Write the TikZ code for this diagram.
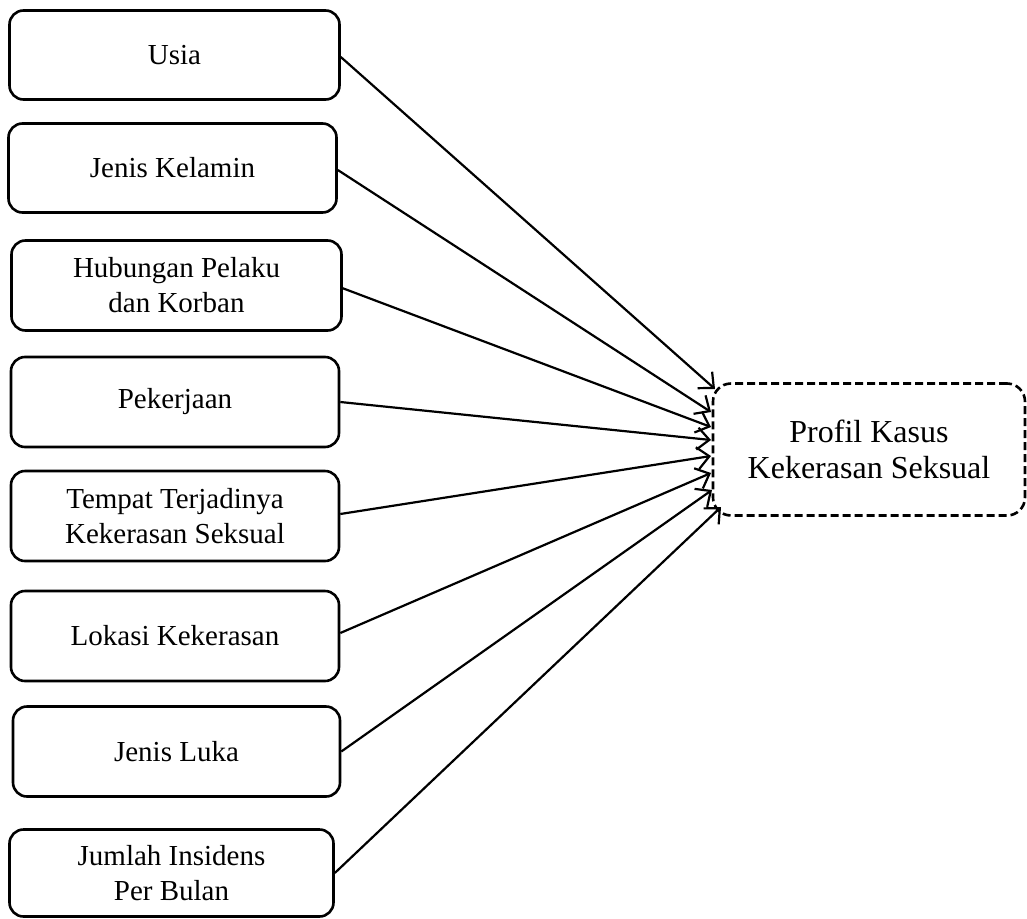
\documentclass[tikz,border=0pt]{standalone}
\usepackage{fontspec}
\setmainfont{Liberation Serif}
\usetikzlibrary{arrows.meta}
\begin{document}
\begin{tikzpicture}[x=1pt,y=-1pt,
  srcbox/.style={draw, line width=2.6pt, rounded corners=14pt, align=center,
    inner sep=0pt, font=\fontsize{29}{35}\selectfont},
  tgtbox/.style={draw, line width=2.6pt, dash pattern=on 8pt off 4pt,
    rounded corners=18pt, align=center, inner sep=0pt,
    font=\fontsize{32}{36}\selectfont},
  link/.style={line width=2.2pt, -{Straight Barb[length=12pt,width=22pt,line width=2.2pt]}}]
\useasboundingbox (0,0) rectangle (1027,918);
\node[srcbox, minimum width=330pt, minimum height=89pt] (b1) at (174.5,55) {Usia};
\node[srcbox, minimum width=328pt, minimum height=89pt] (b2) at (172.5,168) {Jenis Kelamin};
\node[srcbox, minimum width=330pt, minimum height=90pt] (b3) at (176.5,285.5) {Hubungan Pelaku\\dan Korban};
\node[srcbox, minimum width=328pt, minimum height=90pt] (b4) at (175,402) {Pekerjaan};
\node[srcbox, minimum width=328pt, minimum height=90pt] (b5) at (175,516) {Tempat Terjadinya\\Kekerasan Seksual};
\node[srcbox, minimum width=328pt, minimum height=90pt] (b6) at (175,636) {Lokasi Kekerasan};
\node[srcbox, minimum width=327pt, minimum height=90pt] (b7) at (176.5,751.5) {Jenis Luka};
\node[srcbox, minimum width=324pt, minimum height=87pt] (b8) at (171.5,873) {Jumlah Insidens\\Per Bulan};
\node[tgtbox, minimum width=312pt, minimum height=132pt] (t) at (869,449.5) {Profil Kasus\\Kekerasan Seksual};
\coordinate (t1) at (715,389);
\coordinate (t2) at (711,412);
\coordinate (t3) at (711,427);
\coordinate (t4) at (711,440);
\coordinate (t5) at (711,456);
\coordinate (t6) at (711,473);
\coordinate (t7) at (712,490);
\coordinate (t8) at (721,507);
\draw[link] (b1.east) ++(0,2) -- (t1);
\draw[link] (b2.east) ++(0,2) -- (t2);
\draw[link] (b3.east) ++(-2,2) -- (t3);
\draw[link] (b4.east) -- (t4);
\draw[link] (b5.east) ++(0,-2) -- (t5);
\draw[link] (b6.east) ++(0,-3) -- (t6);
\draw[link] (b7.east) -- (t7);
\draw[link] (b8.east) -- (t8);
\end{tikzpicture}
\end{document}
